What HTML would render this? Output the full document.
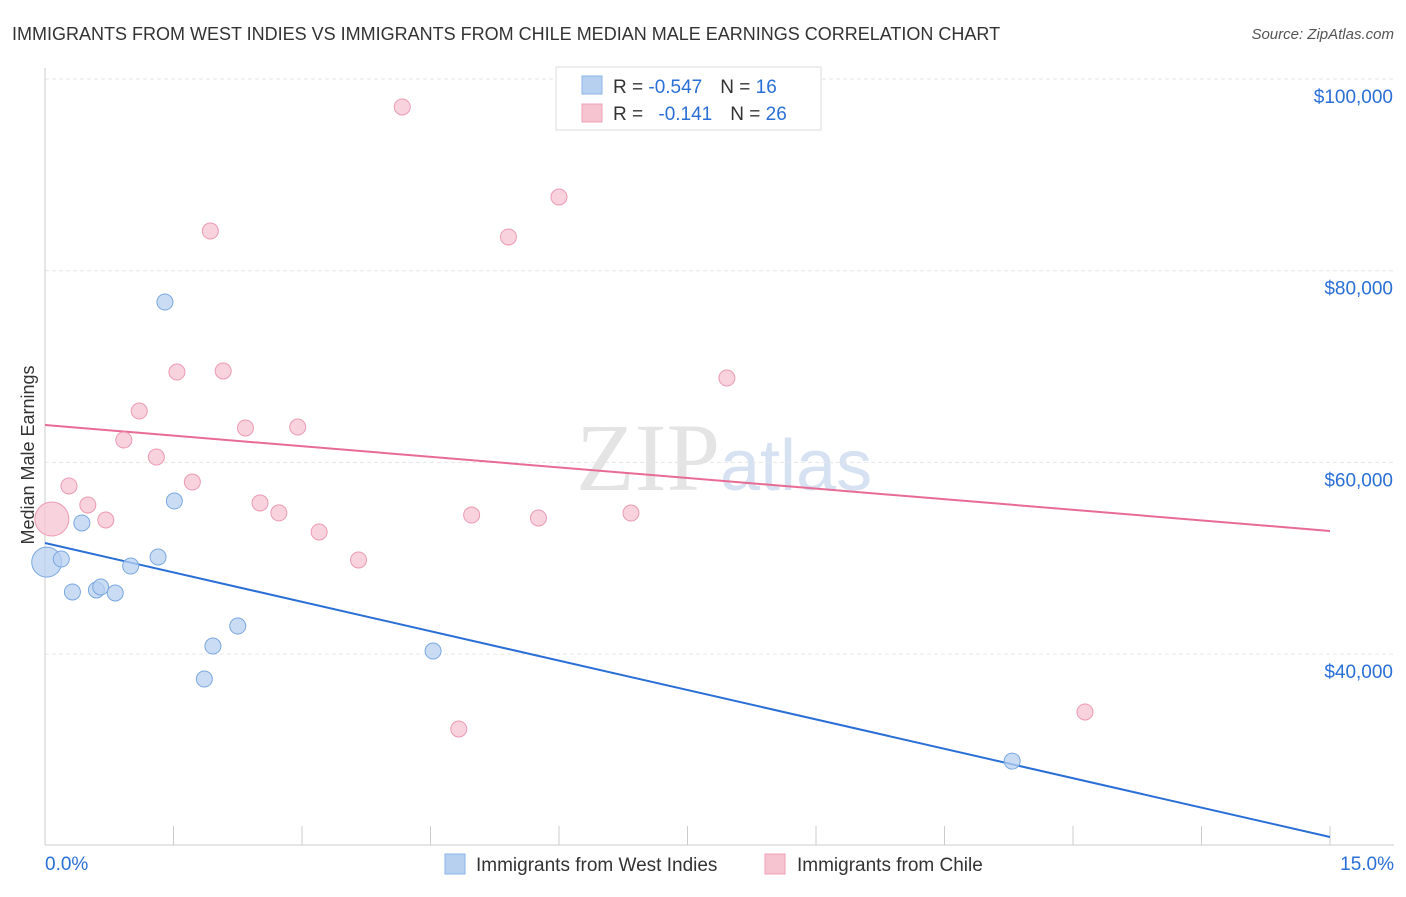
<!DOCTYPE html>
<html><head><meta charset="utf-8"><style>
body{margin:0;background:#fff;font-family:"Liberation Sans",sans-serif;}
</style></head><body>
<svg width="1406" height="892" viewBox="0 0 1406 892" xmlns="http://www.w3.org/2000/svg">
<text x="12" y="40" font-size="18" fill="#333">IMMIGRANTS FROM WEST INDIES VS IMMIGRANTS FROM CHILE MEDIAN MALE EARNINGS CORRELATION CHART</text>
<text x="1394" y="39" font-size="15" fill="#555" font-style="italic" text-anchor="end">Source: ZipAtlas.com</text>
<text x="720" y="490" font-size="96" fill="#e4e4e4" text-anchor="end" font-family="Liberation Serif,serif">ZIP</text>
<text x="720" y="490" font-size="72" fill="#d6e2f2">atlas</text>
<g id="grid"></g>
<g id="axes"></g>
<text transform="translate(34,455) rotate(-90)" font-size="18" fill="#333" text-anchor="middle">Median Male Earnings</text>
<g id="lines"></g>
<g id="points"></g>
<g>
<rect x="556" y="67" width="265" height="63" fill="#fff" stroke="#ddd"/>
<rect x="582" y="76" width="20" height="18" fill="#b7d0f0" stroke="#8ab4e8"/>
<text x="613" y="93" font-size="19" fill="#333">R = <tspan fill="#2a6fd6">-0.547</tspan><tspan dx="18">N = </tspan><tspan fill="#2a6fd6">16</tspan></text>
<rect x="582" y="104" width="20" height="18" fill="#f6c3d0" stroke="#f0a0b8"/>
<text x="613" y="120" font-size="19" fill="#333">R = <tspan dx="10" fill="#2a6fd6">-0.141</tspan><tspan dx="18">N = </tspan><tspan fill="#2a6fd6">26</tspan></text>
</g>
<g>
<rect x="445" y="854" width="20" height="20" fill="#b7d0f0" stroke="#8ab4e8"/>
<text x="476" y="871" font-size="19" fill="#333">Immigrants from West Indies</text>
<rect x="765" y="854" width="20" height="20" fill="#f6c3d0" stroke="#f0a0b8"/>
<text x="797" y="871" font-size="19" fill="#333">Immigrants from Chile</text>
</g>
</svg>
<script>
const yTicks=[40000,60000,80000,100000];
const yTickLabels=["$40,000","$60,000","$80,000","$100,000"];
const xTickLabels=["0.0%","15.0%"];
const blueX=[0.02,0.19,0.32,0.43,0.60,0.65,0.82,1.00,1.32,1.40,1.51,1.86,1.96,2.25,4.53,11.29];
const blueY=[49600,49920,46480,53680,46690,47000,46375,49190,50130,76730,55970,37400,40840,42930,40320,28840];
const blueR=[15,8,8,8,8,8,8,8,8,8,8,8,8,8,8,8];
const pinkX=[0.08,0.28,0.50,0.71,0.92,1.10,1.30,1.54,1.72,1.93,2.08,2.34,2.51,2.73,2.95,3.20,3.66,4.17,4.83,4.98,5.41,5.76,6.00,6.84,7.96,12.14];
const pinkY=[54090,57540,55560,53990,62340,65360,60560,69430,57950,84140,69540,63590,55770,54730,63690,52740,49820,97080,32190,54510,83520,54200,87690,54720,68800,33960];
const pinkR=[17,8,8,8,8,8,8,8,8,8,8,8,8,8,8,8,8,8,8,8,8,8,8,8,8,8];
const blueTrend=[51590,20918];
const pinkTrend=[63902,52843];
const NS="http://www.w3.org/2000/svg";
const X=v=>45+v/15*1285;
const Y=v=>79+(100000-v)/20000*191.7;
function mk(t,a,p){const e=document.createElementNS(NS,t);for(const k in a)e.setAttribute(k,a[k]);p.appendChild(e);return e;}
const g=document.getElementById('grid');
yTicks.forEach((t,i)=>{
 const l=mk('line',{x1:45,x2:1394,y1:Y(t),y2:Y(t),stroke:'#e6e6e6','stroke-dasharray':'4,3'},g);
 
 
 const tx=mk('text',{x:1393,y:Y(t)+24,'font-size':19,fill:'#2a6fd6','text-anchor':'end'},g);
 tx.textContent=yTickLabels[i];
 
 
});
const ax=document.getElementById('axes');
mk('line',{x1:45,x2:45,y1:68,y2:845,stroke:'#ccc'},ax);
mk('line',{x1:45,x2:1394,y1:845,y2:845,stroke:'#ccc'},ax);
for(let i=0;i<=10;i++){const x=X(i*1.5);const t=mk('line',{x1:x,x2:x,y1:826,y2:845,stroke:'#ccc'},ax);}
[[0,'start',45],[15,'end',1394]].forEach((d,i)=>{const t=mk('text',{x:d[2],y:870,'font-size':19,fill:'#2a6fd6','text-anchor':d[1]},ax);t.textContent=xTickLabels[i];});
const ln=document.getElementById('lines');
const bl=mk('line',{x1:X(0),x2:X(15),y1:Y(blueTrend[0]),y2:Y(blueTrend[1]),stroke:'#2a6fd6','stroke-width':2},ln);


const pl=mk('line',{x1:X(0),x2:X(15),y1:Y(pinkTrend[0]),y2:Y(pinkTrend[1]),stroke:'#e86b94','stroke-width':2},ln);


const pts=document.getElementById('points');
blueX.forEach((x,i)=>{const c=mk('circle',{cx:X(x),cy:Y(blueY[i]),r:blueR[i],fill:'#b7d0f0','fill-opacity':0.75,stroke:'#7aa8e0','stroke-width':1},pts);
 
 });
pinkX.forEach((x,i)=>{const c=mk('circle',{cx:X(x),cy:Y(pinkY[i]),r:pinkR[i],fill:'#f6c3d0','fill-opacity':0.75,stroke:'#eb9ab4','stroke-width':1},pts);
 
 });
</script>
</body></html>
